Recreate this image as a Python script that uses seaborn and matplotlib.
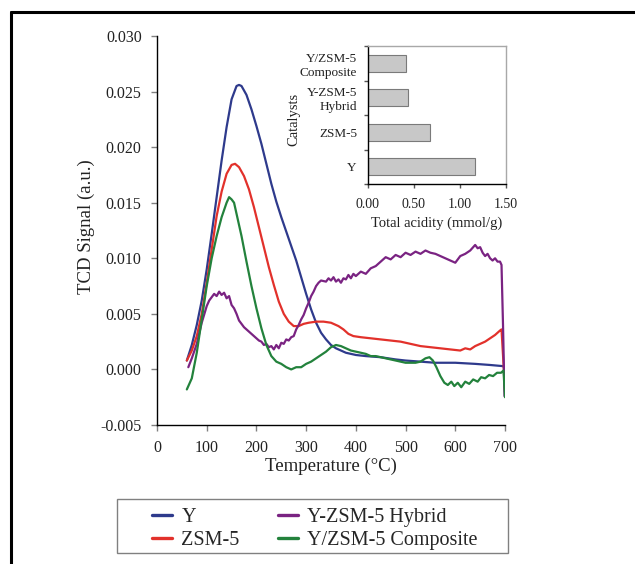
import numpy as np
import pandas as pd
import matplotlib
matplotlib.use("Agg")
import matplotlib.pyplot as plt
import seaborn as sns
from matplotlib.lines import Line2D
from matplotlib.patches import Rectangle
from matplotlib.ticker import FormatStrFormatter

# ---------------- data ----------------
series_names = ["Y", "ZSM-5", "Y-ZSM-5 Hybrid", "Y/ZSM-5 Composite"]
series_colors = ["#2e3a8c", "#e2312b", "#7a2382", "#23823c"]

temp_y = [60, 70, 80, 90, 100, 110, 120, 130, 140, 150, 160, 165, 170, 180, 190, 200,
          210, 220, 230, 240, 250, 260, 270, 280, 290, 300, 310, 320, 330, 340, 350,
          360, 370, 380, 400, 420, 450, 480, 500, 530, 560, 600, 640, 670, 695, 700]
sig_y = [0.0008, 0.0022, 0.0040, 0.0062, 0.0090, 0.0122, 0.0155, 0.0188, 0.0218, 0.0243,
         0.0255, 0.0256, 0.0255, 0.0247, 0.0234, 0.0219, 0.0203, 0.0185, 0.0167, 0.0151,
         0.0137, 0.0124, 0.0111, 0.0098, 0.0083, 0.0068, 0.0054, 0.0042, 0.0033, 0.0027,
         0.0022, 0.0019, 0.0017, 0.0015, 0.0013, 0.0012, 0.0011, 0.0009, 0.0008, 0.0007,
         0.0006, 0.0006, 0.0005, 0.0004, 0.0003, 0.0002]

temp_zsm = [60, 70, 80, 90, 100, 110, 120, 130, 140, 150, 157, 165, 175, 185, 195, 205,
            215, 225, 235, 245, 255, 265, 275, 285, 295, 305, 320, 335, 350, 365, 375,
            385, 395, 410, 430, 450, 470, 490, 510, 530, 550, 570, 590, 610, 620, 630,
            640, 650, 660, 670, 680, 690, 693, 697, 700]
sig_zsm = [0.0008, 0.0017, 0.0030, 0.0050, 0.0078, 0.0108, 0.0138, 0.0160, 0.0176, 0.0184,
           0.0185, 0.0182, 0.0174, 0.0162, 0.0146, 0.0128, 0.0110, 0.0092, 0.0076, 0.0061,
           0.0050, 0.0043, 0.0039, 0.0039, 0.0041, 0.0042, 0.0043, 0.0043, 0.0042, 0.0039,
           0.0036, 0.0032, 0.0030, 0.0029, 0.0028, 0.0027, 0.0026, 0.0025, 0.0023, 0.0021,
           0.0020, 0.0019, 0.0018, 0.0017, 0.0019, 0.0018, 0.0021, 0.0023, 0.0025, 0.0028,
           0.0031, 0.0035, 0.0036, 0.0005, -0.0020]

temp_hyb = [63, 70, 80, 90, 100, 105, 110, 115, 120, 125, 130, 135, 140, 145, 150, 155,
            160, 165, 170, 175, 180, 185, 190, 195, 200, 205, 210, 215, 220, 225, 230,
            235, 240, 245, 250, 255, 260, 265, 270, 275, 280, 285, 290, 295, 300, 305,
            310, 315, 320, 325, 330, 340, 345, 350, 355, 360, 365, 370, 375, 380, 385,
            390, 395, 400, 410, 420, 430, 440, 450, 460, 470, 480, 490, 500, 510, 520,
            530, 540, 550, 560, 570, 580, 590, 600, 610, 620, 630, 640, 645, 650, 655,
            660, 665, 670, 675, 680, 685, 690, 693, 696, 699]
sig_hyb = [0.0002, 0.0010, 0.0023, 0.0042, 0.0057, 0.0062, 0.0065, 0.0068, 0.0066, 0.0070,
           0.0067, 0.0069, 0.0064, 0.0066, 0.0058, 0.0055, 0.0050, 0.0044, 0.0041, 0.0038,
           0.0036, 0.0034, 0.0032, 0.0030, 0.0028, 0.0026, 0.0025, 0.0022, 0.0023, 0.0020,
           0.0021, 0.0018, 0.0022, 0.0019, 0.0024, 0.0023, 0.0027, 0.0026, 0.0029, 0.0030,
           0.0036, 0.0040, 0.0045, 0.0049, 0.0055, 0.0060, 0.0066, 0.0070, 0.0075, 0.0078,
           0.0080, 0.0079, 0.0082, 0.0080, 0.0083, 0.0079, 0.0081, 0.0078, 0.0082, 0.0081,
           0.0085, 0.0082, 0.0086, 0.0084, 0.0088, 0.0086, 0.0091, 0.0093, 0.0097, 0.0101,
           0.0099, 0.0103, 0.0101, 0.0105, 0.0103, 0.0106, 0.0104, 0.0107, 0.0105, 0.0104,
           0.0102, 0.0100, 0.0098, 0.0096, 0.0102, 0.0104, 0.0107, 0.0112, 0.0109, 0.0110,
           0.0105, 0.0102, 0.0104, 0.0100, 0.0098, 0.0100, 0.0097, 0.0097, 0.0094, 0.0040,
           -0.0024]

temp_comp = [60, 65, 70, 80, 90, 100, 110, 120, 130, 140, 145, 150, 155, 160, 170, 180,
             190, 200, 210, 220, 230, 240, 250, 260, 270, 280, 290, 300, 310, 320, 330,
             340, 350, 360, 370, 380, 390, 400, 410, 420, 430, 440, 450, 460, 470, 480,
             490, 500, 510, 520, 530, 540, 548, 555, 562, 570, 578, 585, 592, 598, 605,
             612, 620, 628, 636, 645, 652, 660, 668, 676, 684, 692, 697, 700]
sig_comp = [-0.0018, -0.0013, -0.0008, 0.0015, 0.0045, 0.0075, 0.0100, 0.0120, 0.0137, 0.0150,
            0.0155, 0.0153, 0.0150, 0.0140, 0.0120, 0.0097, 0.0075, 0.0055, 0.0037, 0.0022,
            0.0012, 0.0007, 0.0005, 0.0002, 0.0000, 0.0002, 0.0002, 0.0005, 0.0007, 0.0010,
            0.0013, 0.0016, 0.0020, 0.0022, 0.0021, 0.0019, 0.0017, 0.0016, 0.0015, 0.0014,
            0.0012, 0.0012, 0.0011, 0.0010, 0.0009, 0.0008, 0.0007, 0.0006, 0.0006, 0.0006,
            0.0007, 0.0010, 0.0011, 0.0008, 0.0002, -0.0006, -0.0012, -0.0014, -0.0011, -0.0015,
            -0.0012, -0.0016, -0.0011, -0.0013, -0.0009, -0.0011, -0.0007, -0.0008, -0.0005, -0.0006,
            -0.0003, -0.0003, -0.0001, -0.0025]

catalysts = ["Y/ZSM-5\nComposite", "Y-ZSM-5\nHybrid", "ZSM-5", "Y"]
acidity = [0.41, 0.44, 0.68, 1.17]

x_ticks = [0, 100, 200, 300, 400, 500, 600, 700]
y_ticks = [-0.005, 0.000, 0.005, 0.010, 0.015, 0.020, 0.025, 0.030]
inset_ticks = [0.0, 0.5, 1.0, 1.5]

# ---------------- frame ----------------
frames = []
for name, t, s in zip(series_names,
                      [temp_y, temp_zsm, temp_hyb, temp_comp],
                      [sig_y, sig_zsm, sig_hyb, sig_comp]):
    frames.append(pd.DataFrame({"T": t, "signal": s, "series": name}))
df = pd.concat(frames, ignore_index=True)

sns.set_theme(style="white")
plt.rcParams["font.family"] = ["Liberation Serif", "DejaVu Serif"]

W, H = 635, 564
fig = plt.figure(figsize=(W / 100, H / 100), dpi=100)
fig.patch.set_facecolor("white")

# main axes
ax = fig.add_axes([157 / W, 1 - 425 / H, 348 / W, 389 / H])
sns.lineplot(data=df, x="T", y="signal", hue="series", hue_order=series_names,
             palette=dict(zip(series_names, series_colors)), estimator=None,
             sort=False, linewidth=1.6, ax=ax)
if ax.get_legend() is not None:
    ax.get_legend().remove()

ax.set_xlim(0, 700)
ax.set_ylim(-0.005, 0.030)
ax.set_xticks(x_ticks)
ax.set_yticks(y_ticks)
ax.yaxis.set_major_formatter(FormatStrFormatter("%.3f"))
sns.despine(ax=ax)
for sp in ["left", "bottom"]:
    ax.spines[sp].set_color("black")
    ax.spines[sp].set_linewidth(1.0)
ax.tick_params(axis="both", which="major", bottom=True, left=True, direction="out",
               length=4, width=1, color="#808080", labelsize=11.5, labelcolor="#222222")
ax.tick_params(axis="y", pad=7)
ax.tick_params(axis="x", pad=7)
ax.set_xlabel("Temperature (°C)", fontsize=13.5, color="#222222")
ax.set_ylabel("TCD Signal (a.u.)", fontsize=13.5, color="#222222")
ax.xaxis.set_label_coords(0.5, -0.085)
ax.yaxis.set_label_coords(-0.178, 0.51)

# inset axes
axin = fig.add_axes([368 / W, 1 - 184 / H, 137.7 / W, 138 / H])
sns.barplot(x=acidity, y=catalysts, order=catalysts, orient="h", color="#c8c8c8",
            saturation=1, edgecolor="#7a7a7a", linewidth=0.8, width=0.5, ax=axin)
axin.set_xlim(0, 1.5)
axin.set_ylim(3.5, -0.5)
axin.set_xticks(inset_ticks)
axin.xaxis.set_major_formatter(FormatStrFormatter("%.2f"))
axin.set_yticks([-0.5, 0.5, 1.5, 2.5, 3.5])
axin.set_yticklabels([])
axin.set_yticks([0, 1, 2, 3], minor=True)
axin.set_yticklabels(catalysts, minor=True, fontsize=9.5, linespacing=1.2, color="#222222")
axin.tick_params(axis="y", which="minor", length=0, pad=8)
axin.tick_params(axis="y", which="major", left=True, length=3, width=1, color="#555555")
axin.tick_params(axis="x", which="major", bottom=True, length=3, width=1, color="#555555",
                 labelsize=10, pad=7, labelcolor="#222222")
for sp in ["left", "bottom"]:
    axin.spines[sp].set_color("black")
    axin.spines[sp].set_linewidth(1.0)
for sp in ["top", "right"]:
    axin.spines[sp].set_color("#a8a8a8")
    axin.spines[sp].set_linewidth(1.0)
axin.set_xlabel("Total acidity (mmol/g)", fontsize=10.5, color="#222222")
axin.set_ylabel("Catalysts", fontsize=10.5, color="#222222")
axin.xaxis.set_label_coords(0.5, -0.235)
axin.yaxis.set_label_coords(-0.494, 0.47)

# legend
leg_handles = [Line2D([0], [0], color=c, lw=2.4) for c in series_colors]
fig.legend(leg_handles, series_names, ncol=2, loc="center",
           bbox_to_anchor=(315 / W, 1 - 529 / H), frameon=False, fontsize=14.5,
           handlelength=1.0, handletextpad=0.45, columnspacing=1.9,
           labelspacing=0.2, borderpad=0)
fig.add_artist(Rectangle((117 / W, 1 - 553 / H), 391 / W, 54 / H,
                         transform=fig.transFigure, fill=False,
                         edgecolor="#808080", linewidth=1.0))

# outer figure border (cut off at right and bottom)
fig.add_artist(Line2D([10.5 / W, 10.5 / W], [0, 1 - 12 / H], transform=fig.transFigure,
                      color="black", lw=2.2))
fig.add_artist(Line2D([10.5 / W, 1], [1 - 12 / H, 1 - 12 / H], transform=fig.transFigure,
                      color="black", lw=2.2))

fig.savefig("out.png", dpi=100, facecolor="white")
